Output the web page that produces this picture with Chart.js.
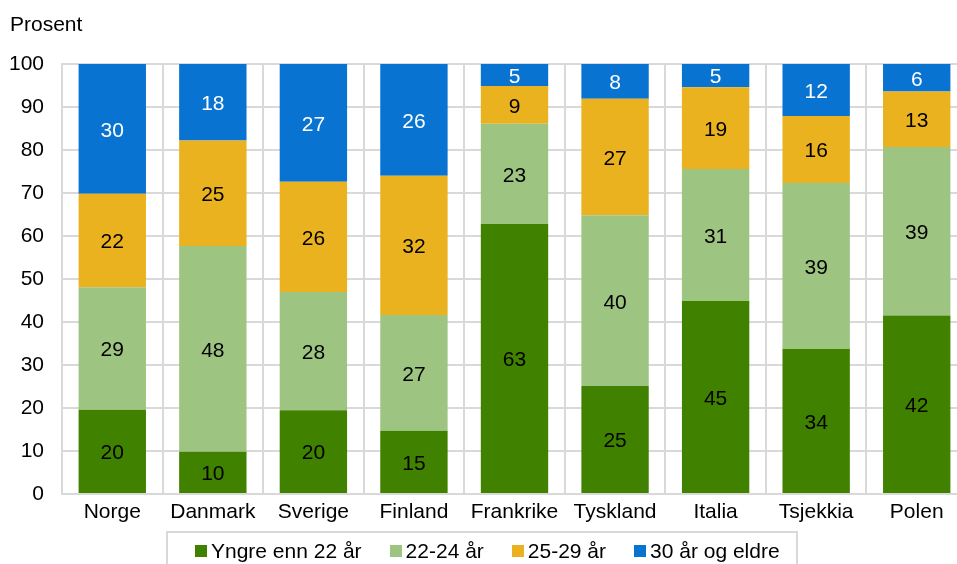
<!DOCTYPE html>
<html lang="no">
<head>
  <meta charset="UTF-8" />
  <title>Prosent etter alder</title>
  <script src="https://cdn.jsdelivr.net/npm/chart.js"></script>
  <style>
    html, body { margin: 0; padding: 0; overflow: hidden; background: #fff; }
    body { width: 957px; height: 564px; position: relative; font-family: "Liberation Sans", Arial, sans-serif; }
    #wrap { position: absolute; left: 0; top: 0; }
    #unit { position: absolute; left: 10px; top: 11px; font-size: 21px; line-height: 26px; color: #000; }
    #legend {
      position: absolute; left: 166px; top: 531px; width: 632px; height: 40px;
      border: 2px solid #d9d9d9; box-sizing: border-box; padding-left: 27px;
      display: flex; align-items: center; font-size: 21px; color: #000;
    }
    #legend .item { display: flex; align-items: center; margin-right: 28px; white-space: nowrap; }
    #legend .sw { width: 12px; height: 12px; margin-right: 4px; }
  </style>
</head>
<body>
  <div id="wrap"><canvas id="chart" width="970" height="564"></canvas></div>
  <div id="unit">Prosent</div>
  <div id="legend"></div>

  <script>
    // kategorier og serier (prosent)
    const countries = ['Norge', 'Danmark', 'Sverige', 'Finland', 'Frankrike', 'Tyskland', 'Italia', 'Tsjekkia', 'Polen'];
    const seriesNames = ['Yngre enn 22 år', '22-24 år', '25-29 år', '30 år og eldre'];
    const under22 = [19.6, 9.8, 19.5, 14.7, 62.8, 25.1, 44.9, 33.7, 41.5];
    const age22to24 = [28.5, 47.9, 27.5, 26.9, 23.3, 39.7, 30.7, 38.6, 39.2];
    const age25to29 = [21.7, 24.5, 25.6, 32.4, 8.8, 27.1, 19.0, 15.6, 12.9];
    const age30plus = [30.2, 17.8, 27.4, 26.0, 5.1, 8.1, 5.4, 12.1, 6.4];
    const yTicks = [0, 10, 20, 30, 40, 50, 60, 70, 80, 90, 100];

    const colors = ['#408200', '#9ec482', '#ebb220', '#0873d0'];
    const labelColors = ['#000', '#000', '#000', '#fff'];
    const gridColor = '#d9d9d9';
    const font = { family: '"Liberation Sans", Arial, sans-serif', size: 21 };

    // tall midt i hvert segment
    const segmentLabels = {
      id: 'segmentLabels',
      afterDatasetsDraw(chart) {
        const ctx = chart.ctx;
        ctx.save();
        ctx.font = font.size + 'px ' + font.family;
        ctx.textAlign = 'center';
        ctx.textBaseline = 'middle';
        chart.data.datasets.forEach((ds, i) => {
          const meta = chart.getDatasetMeta(i);
          ctx.fillStyle = labelColors[i];
          meta.data.forEach((bar, j) => {
            const y = (bar.y + bar.base) / 2;
            ctx.fillText(Math.round(ds.data[j]), bar.x, y + 2);
          });
        });
        ctx.restore();
      }
    };

    const allSeries = [under22, age22to24, age25to29, age30plus];

    new Chart(document.getElementById('chart'), {
      type: 'bar',
      data: {
        labels: countries,
        datasets: allSeries.map((d, i) => ({
          label: seriesNames[i],
          data: d,
          backgroundColor: colors[i],
          borderWidth: 0,
          barPercentage: 0.67,
          categoryPercentage: 1
        }))
      },
      options: {
        responsive: false,
        animation: false,
        layout: { padding: { left: 0, right: 3, top: 64, bottom: 40 } },
        plugins: {
          legend: { display: false },
          tooltip: { enabled: false }
        },
        scales: {
          x: {
            stacked: true,
            grid: { color: gridColor, lineWidth: 2, drawTicks: false, offset: true },
            border: { color: gridColor, width: 2 },
            ticks: { color: '#000', font: font, padding: 6, maxRotation: 0 },
            afterFit(scale) { scale.height = 30; }
          },
          y: {
            stacked: true,
            min: 0,
            max: 100,
            afterBuildTicks(scale) { scale.ticks = yTicks.map(v => ({ value: v })); },
            grid: { color: gridColor, lineWidth: 2, drawTicks: false },
            border: { color: gridColor, width: 2 },
            ticks: { color: '#000', font: font, padding: 18 },
            afterFit(scale) { scale.width = 62; }
          }
        }
      },
      plugins: [segmentLabels]
    });

    // legende
    const legend = document.getElementById('legend');
    seriesNames.forEach((name, i) => {
      const item = document.createElement('div');
      item.className = 'item';
      const sw = document.createElement('span');
      sw.className = 'sw';
      sw.style.background = colors[i];
      const txt = document.createElement('span');
      txt.textContent = name;
      item.appendChild(sw);
      item.appendChild(txt);
      legend.appendChild(item);
    });
  </script>
</body>
</html>
